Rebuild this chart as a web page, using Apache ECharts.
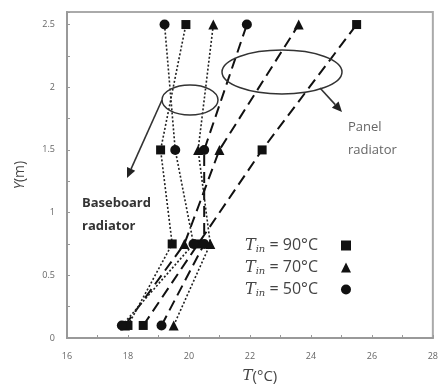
<!DOCTYPE html>
<html><head><meta charset="utf-8">
<script src="https://cdn.jsdelivr.net/npm/echarts@6/dist/echarts.min.js"></script>
<style>html,body{margin:0;padding:0;background:#fff}#c{width:441px;height:389px}</style>
</head><body><div id="c"></div>
<script>
const heights = [0.1, 0.75, 1.5, 2.5];
const baseboard90 = [18.0, 19.45, 19.07, 19.9];
const baseboard70 = [19.5, 20.7, 20.3, 20.8];
const baseboard50 = [17.8, 20.15, 19.55, 19.2];
const panel90 = [18.5, 20.3, 22.4, 25.5];
const panel70 = [17.9, 19.85, 21.0, 23.6];
const panel50 = [19.1, 20.5, 20.5, 21.9];
const legendNames = ['T90', 'T70', 'T50'];
const legendTemps = ['90', '70', '50'];

const pairs = arr => arr.map((t, i) => [t, heights[i]]);
const symbols = {T90: 'rect', T70: 'triangle', T50: 'circle'};
const sizes = {T90: 9, T70: 10, T50: 10};

function mk(name, arr, kind) {
  return {
    name: name, type: 'line', data: pairs(arr),
    symbol: symbols[name], symbolSize: sizes[name],
    itemStyle: {color: '#111'},
    lineStyle: kind === 'bb' ? {type: [2, 2], width: 1.6, color: '#222'} : {type: [11, 6], width: 2, color: '#111'},
    z: kind === 'bb' ? 3 : 2
  };
}

function arrow(x1, y1, x2, y2) {
  const a = Math.atan2(y2 - y1, x2 - x1), L = 10, W = 4.5;
  const bx = x2 - L * Math.cos(a), by = y2 - L * Math.sin(a);
  const px = -Math.sin(a) * W, py = Math.cos(a) * W;
  return [
    {type: 'line', shape: {x1: x1, y1: y1, x2: bx, y2: by}, style: {stroke: '#333', lineWidth: 1.6}},
    {type: 'polygon', shape: {points: [[x2, y2], [bx + px, by + py], [bx - px, by - py]]}, style: {fill: '#222'}}
  ];
}

const chart = echarts.init(document.getElementById('c'), null, {renderer: 'canvas'});
const fontF = '"Open Sans", "Noto Sans", sans-serif';
const serifF = '"DejaVu Serif", serif';
chart.setOption({
  animation: false,
  grid: {left: 67, right: 2, top: 12, bottom: 51, show: true, borderColor: '#aaa', borderWidth: 2},
  xAxis: {
    type: 'value', min: 16, max: 28, interval: 1,
    name: '{i|T}{n|(°C)}', nameLocation: 'middle', nameGap: 31,
    nameTextStyle: {color: '#444', fontSize: 15, fontFamily: fontF, padding: [0, 0, 0, 20],
      rich: {i: {fontFamily: serifF, fontStyle: 'italic', fontSize: 15, color: '#444'},
             n: {fontFamily: fontF, fontSize: 15, color: '#444'}}},
    axisLine: {lineStyle: {color: '#999', width: 2}},
    axisTick: {inside: true, length: 3, lineStyle: {color: '#999'}},
    axisLabel: {color: '#666', fontSize: 9, fontFamily: fontF, margin: 14,
      formatter: v => (v % 2 === 0 ? String(v) : '')},
    splitLine: {show: false}
  },
  yAxis: {
    type: 'value', min: 0, max: 2.6, interval: 0.25,
    name: '{i|Y}{n|(m)}', nameLocation: 'middle', nameGap: 40,
    nameTextStyle: {color: '#444', fontSize: 14, fontFamily: fontF,
      rich: {i: {fontFamily: fontF, fontStyle: 'italic', fontSize: 14, color: '#444'},
             n: {fontFamily: fontF, fontSize: 14, color: '#444'}}},
    axisLine: {lineStyle: {color: '#999', width: 2}},
    axisTick: {inside: true, length: 3, lineStyle: {color: '#999'}},
    axisLabel: {color: '#666', fontSize: 9, fontFamily: fontF, margin: 12,
      formatter: v => (Math.abs(v * 2 - Math.round(v * 2)) < 1e-6 ? String(v) : '')},
    splitLine: {show: false}
  },
  legend: {
    orient: 'vertical', left: 240, top: 232, align: 'right', itemGap: 5,
    itemWidth: 10, itemHeight: 10,
    data: legendNames.map(n => ({name: n, icon: symbols[n], itemStyle: {color: '#111'}})),
    formatter: n => '{t|T}{s|in}{e| = ' + legendTemps[legendNames.indexOf(n)] + '°C}',
    textStyle: {
      color: '#444',
      rich: {
        t: {fontFamily: serifF, fontStyle: 'italic', fontSize: 16, color: '#444', lineHeight: 15},
        s: {fontFamily: serifF, fontStyle: 'italic', fontSize: 10, color: '#444', padding: [7, 0, 0, 0], lineHeight: 15},
        e: {fontFamily: fontF, fontSize: 16, color: '#444', padding: [0, 18, 0, 0], lineHeight: 15}
      }
    }
  },
  series: [
    mk('T90', baseboard90, 'bb'), mk('T70', baseboard70, 'bb'), mk('T50', baseboard50, 'bb'),
    mk('T90', panel90, 'pn'), mk('T70', panel70, 'pn'), mk('T50', panel50, 'pn')
  ],
  graphic: [
    {type: 'ellipse', shape: {cx: 190, cy: 100, rx: 28, ry: 15}, style: {fill: null, stroke: '#333', lineWidth: 1.5}, z: 10},
    {type: 'ellipse', shape: {cx: 282, cy: 72, rx: 60, ry: 22}, style: {fill: null, stroke: '#333', lineWidth: 1.5}, z: 10},
    ...arrow(162, 100, 127, 178),
    ...arrow(320, 88, 342, 112),
    {type: 'text', left: 82, top: 192, style: {text: 'Baseboard\nradiator', fill: '#333', font: 'bold 13px ' + fontF, lineHeight: 23}},
    {type: 'text', left: 348, top: 116, style: {text: 'Panel\nradiator', fill: '#666', font: '13px ' + fontF, lineHeight: 23}}
  ]
});
</script></body></html>
